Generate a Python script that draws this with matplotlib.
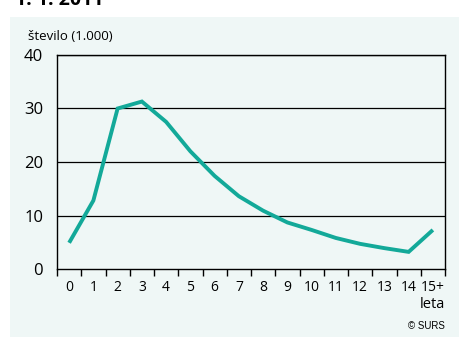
import matplotlib
matplotlib.use("Agg")
import matplotlib.pyplot as plt
from matplotlib.patches import Rectangle

# starost (leta) in stevilo (1.000)
ages = ["0", "1", "2", "3", "4", "5", "6", "7", "8", "9",
        "10", "11", "12", "13", "14", "15+"]
counts = [4.9, 12.8, 30.0, 31.3, 27.5, 22.0, 17.4, 13.6, 10.9, 8.7,
          7.3, 5.8, 4.7, 3.9, 3.2, 7.3]
yticks = [0, 10, 20, 30, 40]

plt.rcParams['font.family'] = ['Open Sans', 'DejaVu Sans']

W, H = 460, 337
fig = plt.figure(figsize=(W / 100, H / 100), dpi=100)
fig.patch.set_facecolor("white")

# light panel behind the chart
fig.patches.append(Rectangle((10 / W, 0), 450 / W, 1 - 17 / H,
                             transform=fig.transFigure, facecolor="#eff7f6",
                             edgecolor="none", zorder=-5))
# title, cut off at top edge
fig.text(15 / W, 1 - 5 / H, "1. 1. 2011", fontsize=14, fontweight="bold",
         ha="left", va="baseline", color="black")

ax = fig.add_axes([57 / W, 1 - 269 / H, (445 - 57) / W, (269 - 55) / H])
ax.set_facecolor("none")
ax.set_zorder(2)

x = list(range(len(ages)))
ax.plot(x, counts, color="#13a999", lw=2.8, solid_joinstyle="miter",
        solid_capstyle="butt", zorder=3)

ax.set_xlim(-0.5, len(ages) - 0.5)
ax.set_ylim(0, 40)
for v in yticks[1:]:
    ax.axhline(v, color="black", lw=0.9, zorder=1)

ax.set_yticks(yticks)
ax.set_yticklabels([str(v) for v in yticks], fontsize=12)
ax.tick_params(axis="y", length=0, pad=10)

# ticks between the categories
ax.set_xticks([i - 0.5 for i in range(len(ages) + 1)])
ax.set_xticklabels([])
ax.set_xticks(x, minor=True)
ax.set_xticklabels(ages, minor=True, fontsize=10)
ax.tick_params(axis="x", which="major", length=5, width=1, direction="out")
ax.tick_params(axis="x", which="minor", length=0, pad=8)

for s in ["left", "right", "top", "bottom"]:
    ax.spines[s].set_color("black")
    ax.spines[s].set_linewidth(1)

fig.text(28 / W, 1 - 36 / H, "število (1.000)", fontsize=9.5, ha="left",
         va="center")
fig.text(445 / W, 1 - 305 / H, "leta", fontsize=10.5, ha="right", va="center")
fig.text(445 / W, 1 - 326 / H, "© SURS", fontsize=7, ha="right", va="center",
         family=["Liberation Sans", "DejaVu Sans"])

fig.savefig("out.png", dpi=100)
